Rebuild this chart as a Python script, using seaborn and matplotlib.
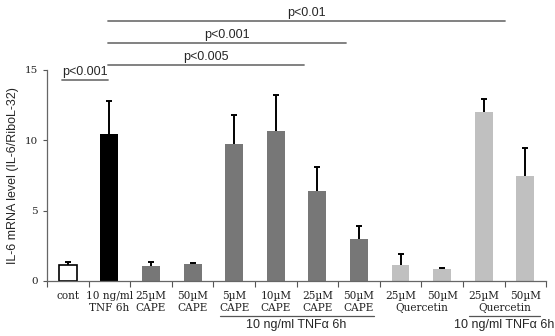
import numpy as np
import pandas as pd
import matplotlib
matplotlib.use("Agg")
import matplotlib.pyplot as plt
import seaborn as sns

# Values (mean, upper error)
conditions = ["cont", "TNF", "CAPE25", "CAPE50", "TNF_CAPE5", "TNF_CAPE10",
              "TNF_CAPE25", "TNF_CAPE50", "Q25", "Q50", "TNF_Q25", "TNF_Q50"]
tick_labels = ["cont", "10 ng/ml\nTNF 6h", "25\u00b5M\nCAPE", "50\u00b5M\nCAPE",
               "5\u00b5M\nCAPE", "10\u00b5M\nCAPE", "25\u00b5M\nCAPE", "50\u00b5M\nCAPE",
               "25\u00b5M", "50\u00b5M", "25\u00b5M", "50\u00b5M"]
means = [1.12, 10.44, 1.09, 1.19, 9.73, 10.63, 6.38, 2.99, 1.12, 0.83, 11.98, 7.47]
errors = [0.25, 2.37, 0.28, 0.06, 2.07, 2.61, 1.73, 0.92, 0.82, 0.1, 0.97, 1.95]
bar_colors = ["#ffffff", "#000000", "#777777", "#777777", "#777777", "#777777",
              "#777777", "#777777", "#c0c0c0", "#c0c0c0", "#c0c0c0", "#c0c0c0"]

# significance brackets: (x start, x end, y level, label)
sig_brackets = [(-0.14, 0.96, 14.26, "p<0.001"),
                (0.96, 5.69, 15.32, "p<0.005"),
                (0.96, 6.70, 16.90, "p<0.001"),
                (0.96, 10.50, 18.50, "p<0.01")]

df = pd.DataFrame({"condition": conditions, "value": means})

sns.set_style("ticks")
plt.rcParams["font.family"] = ["Liberation Sans", "DejaVu Sans"]

fig = plt.figure(figsize=(5.55, 3.36), dpi=100)
ax = fig.add_axes([0.0847, 0.1637, 0.8993, 0.628])

sns.barplot(data=df, x="condition", y="value", hue="condition",
            palette=dict(zip(conditions, bar_colors)), legend=False,
            width=0.43, ax=ax, linewidth=0)
for patch, c in zip(ax.patches, bar_colors):
    if c == "#ffffff":
        patch.set_edgecolor("black")
        patch.set_linewidth(1.2)

# upper-only error bars, cap only on top
xs = np.arange(len(conditions))
tops = np.array(means) + np.array(errors)
ax.vlines(xs, means, tops, color="black", lw=1.4)
ax.plot(xs, tops, ls="none", marker="_", ms=5, mew=1.4, color="black")

ax.set_ylim(0, 15)
ax.set_xlim(-0.5, len(conditions) - 0.5)
ax.set_yticks([0, 5, 10, 15])
ax.tick_params(axis="y", length=3, width=0.8, colors="#555555",
               labelcolor="#222222")
for lbl in ax.get_yticklabels():
    lbl.set_family("DejaVu Serif")
    lbl.set_fontsize(7.5)

ax.set_xticks(xs)
ax.set_xticklabels(tick_labels, family="DejaVu Serif", fontsize=7.6,
                   linespacing=1.3, color="#222222")
ax.tick_params(axis="x", which="major", length=0, pad=7)
ax.set_xticks(np.arange(len(conditions) + 1) - 0.5, minor=True)
ax.tick_params(axis="x", which="minor", length=4, width=0.8, colors="#555555")
ax.set_xlabel("")
ax.set_ylabel("IL-6 mRNA level (IL-6/RiboL-32)", fontsize=9)

for side in ["top", "right"]:
    ax.spines[side].set_visible(False)
for side in ["left", "bottom"]:
    ax.spines[side].set_color("#666666")
    ax.spines[side].set_linewidth(0.9)

# significance lines above the plot
for x0, x1, y, txt in sig_brackets:
    ax.plot([x0, x1], [y, y], color="#777777", lw=1.3, clip_on=False)
    ax.text((x0 + x1) / 2, y + 0.15, txt, ha="center", va="bottom",
            fontsize=9)

# Quercetin shared labels
for xc in [8.5, 10.5]:
    ax.text(xc, -1.95, "Quercetin", ha="center", va="center",
            family="DejaVu Serif", fontsize=7.6, color="#222222", clip_on=False)

# group underlines for TNF treatment
for x0, x1, xc in [(3.65, 7.35, 5.5), (9.65, 11.35, 10.5)]:
    ax.plot([x0, x1], [-2.5, -2.5], color="#555555", lw=0.9, clip_on=False)
    ax.text(xc, -3.15, "10 ng/ml TNF\u03b1 6h", ha="center", va="center",
            fontsize=9, clip_on=False)

fig.savefig("out.png", dpi=100)
